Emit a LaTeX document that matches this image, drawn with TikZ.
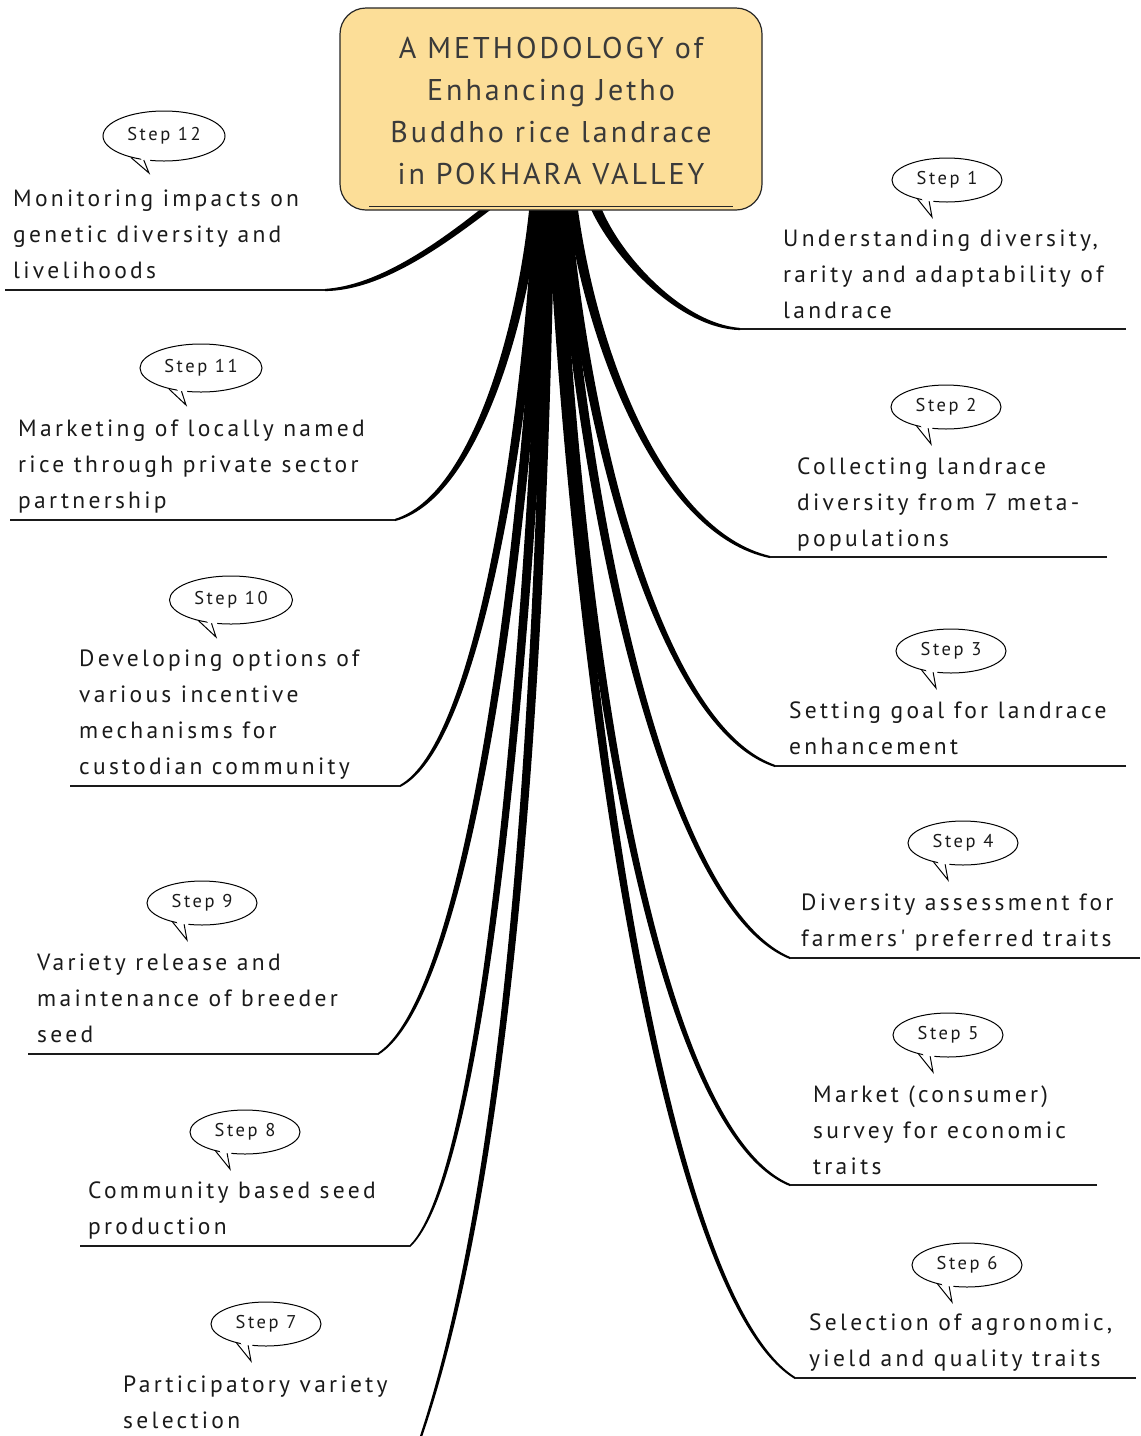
\documentclass[tikz,border=0pt]{standalone}
\usepackage{fontspec}
\usetikzlibrary{calc,shapes.geometric}
\newfontfamily\diafont{PT Sans}[LetterSpace=14]
\newfontfamily\titlefont{PT Sans}[LetterSpace=10]
\definecolor{boxfill}{HTML}{FCDE98}
\definecolor{ink}{HTML}{1A1A1A}
\definecolor{titleink}{HTML}{3A3A3A}
\tikzset{
  titlebox/.style={draw=black!85, line width=1.2pt, fill=boxfill, rounded corners=26pt, minimum width=422pt, minimum height=202pt, inner sep=0pt},
  titletext/.style={align=center, font=\titlefont\fontsize{30}{41.7}\selectfont, text=titleink, inner sep=0pt, anchor=base},
  steptext/.style={align=left, font=\diafont\fontsize{23.5}{35.8}\selectfont, text=ink, inner sep=0pt, anchor=base west},
  bubble/.style={ellipse, draw=black, line width=1pt, fill=white, minimum width=110pt, minimum height=44pt, inner sep=0pt, font=\diafont\fontsize{18.5}{20}\selectfont, text=ink},
  uline/.style={draw=ink, line width=1.3pt},
  tailline/.style={draw=black, line width=1pt, line join=miter},
}
% #1 start, #2 end, #3 c1, #4 c2, #5 sign (-1 left branches, +1 right branches), #6 end half width
\newcommand{\drawbranch}[6]{%
  \fill[black] ($(#1)+(-5.5,0)$) .. controls ($#3+(-4.5,0)$) and ($#4+(-2.5,#5*2.5)$) .. ($(#2)+(0,#5*#6)$)
    -- ($(#2)+(0,-#5*#6)$) .. controls ($#4+(2.5,-#5*2.5)$) and ($#3+(4.5,0)$) .. ($(#1)+(5.5,0)$) -- cycle;}
\newcommand{\bubbletail}[1]{%
  \fill[white] ($(#1.center)+(-28,14)$) -- ($(#1.center)+(-15,37)$) -- ($(#1.center)+(-13,14)$) -- cycle;
  \draw[tailline] (#1.213) -- ($(#1.center)+(-15,37)$) -- (#1.230);}
\begin{document}
\begin{tikzpicture}[x=1pt,y=-1pt]
\useasboundingbox (0,0) rectangle (1141,1436);
\fill[white] (0,0) rectangle (1141,1436);
\clip (0,0) rectangle (1141,1436);

% branch start points (under box)
\coordinate (s12) at (490,206);
\coordinate (s11) at (535,206);
\coordinate (s10) at (539,206);
\coordinate (s9) at (543,206);
\coordinate (s8) at (546,206);
\coordinate (s7) at (549,206);
\coordinate (s6) at (553,206);
\coordinate (s5) at (557,206);
\coordinate (s4) at (561,206);
\coordinate (s3) at (565,206);
\coordinate (s2) at (572,206);
\coordinate (s1) at (595,206);
% branch end points (inner ends of underlines)
\coordinate (e12) at (325,290);
\coordinate (e11) at (395,520);
\coordinate (e10) at (400,786);
\coordinate (e9) at (378,1054);
\coordinate (e8) at (410,1246);
\coordinate (e7) at (405,1480);
\coordinate (e1) at (740,329);
\coordinate (e2) at (770,557);
\coordinate (e3) at (775,766);
\coordinate (e4) at (790,958);
\coordinate (e5) at (790,1185);
\coordinate (e6) at (795,1378);
% outer ends of underlines
\coordinate (u12) at (5,290);
\coordinate (u11) at (10,520);
\coordinate (u10) at (70,786);
\coordinate (u9) at (28,1054);
\coordinate (u8) at (80,1246);
\coordinate (u1) at (1126,329);
\coordinate (u2) at (1107,557);
\coordinate (u3) at (1126,766);
\coordinate (u4) at (1140,958);
\coordinate (u5) at (1097,1185);
\coordinate (u6) at (1136,1378);

% branches
\drawbranch{s12}{e12}{(440,245)}{(380,288)}{-1}{1.1}
\drawbranch{s11}{e11}{(521,335)}{(472,498)}{-1}{1.1}
\drawbranch{s10}{e10}{(525,442)}{(476,746)}{-1}{1.1}
\drawbranch{s9}{e9}{(526,549)}{(469,995)}{-1}{1.1}
\drawbranch{s8}{e8}{(532,626)}{(485,1174)}{-1}{1.1}
\drawbranch{s7}{e7}{(540,800)}{(497,1250)}{-1}{2.2}
\drawbranch{s6}{e6}{(577,678)}{(662,1296)}{1}{1.1}
\drawbranch{s5}{e5}{(578,640)}{(655,1130)}{1}{1.1}
\drawbranch{s4}{e4}{(584,510)}{(664,906)}{1}{1.1}
\drawbranch{s3}{e3}{(586,434)}{(660,727)}{1}{1.1}
\drawbranch{s2}{e2}{(592,350)}{(661,533)}{1}{1.1}
\drawbranch{s1}{e1}{(615,255)}{(680,326)}{1}{1.1}

% underlines
\foreach \i in {12,11,10,9,8,1,2,3,4,5,6} {\draw[uline] (u\i) -- (e\i);}

% title box
\node[titlebox] (box) at (551,109) {};
\draw[draw=black!85, line width=1pt] ($(box.south west)+(30,-4)$) -- ($(box.south east)+(-30,-4)$);
\node[titletext] (title) at (551,184) {A METHODOLOGY of\\Enhancing Jetho\\Buddho rice landrace\\in POKHARA VALLEY};

% left texts (anchored at last baseline)
\node[steptext] (t12) at (13,278) {Monitoring impacts on\\genetic diversity and\\livelihoods};
\node[steptext] (t11) at (18,508) {Marketing of locally named\\rice through private sector\\partnership};
\node[steptext] (t10) at (79,774) {Developing options of\\various incentive\\mechanisms for\\custodian community};
\node[steptext] (t9) at (37,1042) {Variety release and\\maintenance of breeder\\seed};
\node[steptext] (t8) at (88,1234) {Community based seed\\production};
\node[steptext] (t7) at (123,1428) {Participatory variety\\selection};
% right texts
\node[steptext] (t1) at (783,318) {Understanding diversity,\\rarity and adaptability of\\landrace};
\node[steptext] (t2) at (797,546) {Collecting landrace\\diversity from 7 meta-\\populations};
\node[steptext] (t3) at (789,754) {Setting goal for landrace\\enhancement};
\node[steptext] (t4) at (801,946) {Diversity assessment for\\farmers' preferred traits};
\node[steptext] (t5) at (813,1174) {Market (consumer)\\survey for economic\\traits};
\node[steptext] (t6) at (809,1366) {Selection of agronomic,\\yield and quality traits};

% step bubbles
\node[bubble, minimum width=122pt, minimum height=50pt] (b12) at (164,136) {Step 12};
\node[bubble, minimum width=122pt, minimum height=48pt] (b11) at (201,368) {Step 11};
\node[bubble, minimum width=123pt, minimum height=48pt] (b10) at (231,600) {Step 10};
\node[bubble] (b9) at (202,903) {Step 9};
\node[bubble] (b8) at (245,1132) {Step 8};
\node[bubble] (b7) at (266,1324) {Step 7};
\node[bubble] (b1) at (947,180) {Step 1};
\node[bubble] (b2) at (946,407) {Step 2};
\node[bubble] (b3) at (951,651) {Step 3};
\node[bubble] (b4) at (963,843) {Step 4};
\node[bubble] (b5) at (948,1035) {Step 5};
\node[bubble] (b6) at (967,1265) {Step 6};
\foreach \b in {b12,b11,b10,b9,b8,b7,b1,b2,b3,b4,b5,b6} {\bubbletail{\b}}
\end{tikzpicture}
\end{document}
